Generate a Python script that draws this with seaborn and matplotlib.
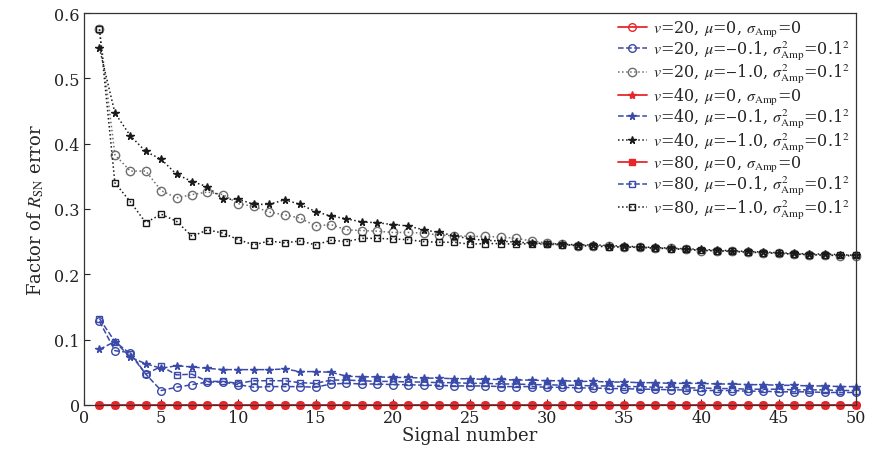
import numpy as np
import pandas as pd
import matplotlib
matplotlib.use("Agg")
import matplotlib.pyplot as plt
import seaborn as sns

signal = list(range(1, 51))

red_v20 = [0.0] * 50
red_v40 = [0.0] * 50
red_v80 = [0.0] * 50

blue_v20 = [0.128, 0.083, 0.080, 0.047, 0.022, 0.027, 0.031, 0.035, 0.035, 0.031,
            0.027, 0.028, 0.028, 0.028, 0.027, 0.032, 0.033, 0.032, 0.032, 0.031,
            0.031, 0.030, 0.030, 0.029, 0.029, 0.029, 0.028, 0.028, 0.028, 0.027,
            0.027, 0.026, 0.026, 0.025, 0.025, 0.024, 0.024, 0.023, 0.023, 0.022,
            0.022, 0.022, 0.021, 0.021, 0.020, 0.020, 0.020, 0.019, 0.019, 0.019]
blue_v40 = [0.085, 0.097, 0.073, 0.063, 0.056, 0.060, 0.058, 0.056, 0.054, 0.054,
            0.054, 0.054, 0.055, 0.051, 0.051, 0.050, 0.044, 0.043, 0.043, 0.042,
            0.042, 0.041, 0.041, 0.040, 0.040, 0.039, 0.039, 0.038, 0.038, 0.037,
            0.037, 0.036, 0.036, 0.035, 0.035, 0.034, 0.034, 0.033, 0.033, 0.033,
            0.032, 0.032, 0.031, 0.031, 0.030, 0.030, 0.029, 0.029, 0.028, 0.028]
blue_v80 = [0.132, 0.097, 0.078, 0.047, 0.059, 0.046, 0.047, 0.036, 0.036, 0.033,
            0.037, 0.037, 0.037, 0.034, 0.033, 0.038, 0.038, 0.037, 0.036, 0.036,
            0.035, 0.035, 0.034, 0.034, 0.033, 0.033, 0.032, 0.032, 0.031, 0.031,
            0.030, 0.030, 0.029, 0.029, 0.028, 0.028, 0.027, 0.027, 0.026, 0.026,
            0.025, 0.025, 0.024, 0.024, 0.024, 0.023, 0.023, 0.023, 0.022, 0.022]

black_v20 = [0.575, 0.383, 0.358, 0.358, 0.328, 0.317, 0.322, 0.326, 0.322, 0.308,
             0.304, 0.295, 0.291, 0.286, 0.274, 0.276, 0.268, 0.267, 0.266, 0.264,
             0.264, 0.263, 0.260, 0.259, 0.258, 0.258, 0.257, 0.255, 0.251, 0.248,
             0.246, 0.244, 0.244, 0.243, 0.241, 0.242, 0.240, 0.240, 0.238, 0.236,
             0.236, 0.235, 0.234, 0.233, 0.232, 0.231, 0.230, 0.230, 0.228, 0.228]
black_v40 = [0.546, 0.447, 0.412, 0.388, 0.376, 0.353, 0.342, 0.334, 0.315, 0.315,
             0.307, 0.307, 0.314, 0.307, 0.296, 0.289, 0.285, 0.280, 0.279, 0.276,
             0.274, 0.268, 0.264, 0.259, 0.254, 0.252, 0.251, 0.249, 0.248, 0.247,
             0.246, 0.245, 0.245, 0.244, 0.243, 0.242, 0.241, 0.240, 0.239, 0.238,
             0.237, 0.236, 0.235, 0.234, 0.233, 0.232, 0.231, 0.231, 0.230, 0.229]
black_v80 = [0.575, 0.340, 0.311, 0.279, 0.292, 0.281, 0.258, 0.268, 0.263, 0.253,
             0.245, 0.251, 0.248, 0.251, 0.245, 0.252, 0.250, 0.255, 0.255, 0.254,
             0.253, 0.250, 0.249, 0.249, 0.246, 0.247, 0.247, 0.246, 0.247, 0.246,
             0.245, 0.244, 0.243, 0.242, 0.242, 0.241, 0.240, 0.239, 0.238, 0.237,
             0.236, 0.235, 0.234, 0.233, 0.232, 0.231, 0.230, 0.229, 0.229, 0.229]

labels = [
    r"$v$=20, $\mu$=0, $\sigma_{\rm Amp}$=0",
    r"$v$=20, $\mu$=$-$0.1, $\sigma^2_{\rm Amp}$=0.1$^2$",
    r"$v$=20, $\mu$=$-$1.0, $\sigma^2_{\rm Amp}$=0.1$^2$",
    r"$v$=40, $\mu$=0, $\sigma_{\rm Amp}$=0",
    r"$v$=40, $\mu$=$-$0.1, $\sigma^2_{\rm Amp}$=0.1$^2$",
    r"$v$=40, $\mu$=$-$1.0, $\sigma^2_{\rm Amp}$=0.1$^2$",
    r"$v$=80, $\mu$=0, $\sigma_{\rm Amp}$=0",
    r"$v$=80, $\mu$=$-$0.1, $\sigma^2_{\rm Amp}$=0.1$^2$",
    r"$v$=80, $\mu$=$-$1.0, $\sigma^2_{\rm Amp}$=0.1$^2$",
]
series = [red_v20, blue_v20, black_v20, red_v40, blue_v40, black_v40,
          red_v80, blue_v80, black_v80]

RED = "#e8262a"
BLUE = "#3a4aa8"
BLACK = "#1a1a1a"
GRAY = "#6e6e6e"
styles = [
    dict(color=RED, linestyle="-", marker="o", mfc="none", mec=RED, ms=5.5, lw=1.3),
    dict(color=BLUE, linestyle="--", marker="o", mfc="none", mec=BLUE, ms=5.5, lw=1.1),
    dict(color=GRAY, linestyle=":", marker="o", mfc="none", mec=GRAY, ms=6, lw=1.1),
    dict(color=RED, linestyle="-", marker="*", mfc=RED, mec=RED, ms=6, lw=1.3),
    dict(color=BLUE, linestyle="--", marker="*", mfc=BLUE, mec=BLUE, ms=5.5, lw=1.1),
    dict(color=BLACK, linestyle=":", marker="*", mfc=BLACK, mec=BLACK, ms=5.5, lw=1.1),
    dict(color=RED, linestyle="-", marker="s", mfc=RED, mec=RED, ms=4.5, lw=1.3),
    dict(color=BLUE, linestyle="--", marker="s", mfc="none", mec=BLUE, ms=4.5, lw=1.1),
    dict(color=BLACK, linestyle=":", marker="s", mfc="none", mec=BLACK, ms=4.5, lw=1.1),
]

sns.set_theme(style="ticks")
plt.rcParams["font.family"] = ["DejaVu Serif"]
plt.rcParams["mathtext.fontset"] = "stix"

fig = plt.figure(figsize=(8.69, 4.52), dpi=100)
ax = fig.add_axes([0.0967, 0.102, 0.888, 0.867])

for lab, vals, st in zip(labels, series, styles):
    df = pd.DataFrame({"Signal number": signal, "value": vals})
    sns.lineplot(data=df, x="Signal number", y="value", ax=ax, label=lab,
                 color=st["color"], linestyle=st["linestyle"], linewidth=st["lw"],
                 marker=st["marker"], markerfacecolor=st["mfc"],
                 markeredgecolor=st["mec"], markersize=st["ms"],
                 markeredgewidth=1.0, clip_on=False)

ax.set_xlim(0, 50)
ax.set_ylim(0, 0.6)
ax.set_xticks([0, 5, 10, 15, 20, 25, 30, 35, 40, 45, 50])
ax.set_yticks([0, 0.1, 0.2, 0.3, 0.4, 0.5, 0.6])
ax.set_yticklabels(["0", "0.1", "0.2", "0.3", "0.4", "0.5", "0.6"])
ax.tick_params(direction="in", length=4, width=0.8, labelsize=11.5, pad=3,
               colors="#222222")
for sp in ax.spines.values():
    sp.set_visible(True)
    sp.set_linewidth(0.9)
    sp.set_color("#333333")

ax.set_xlabel("Signal number", fontsize=13, labelpad=0)
ax.set_ylabel(r"Factor of $R_{\rm SN}$ error", fontsize=13, labelpad=6)

leg = ax.legend(loc="upper right", frameon=False, fontsize=11.5,
                handlelength=1.8, labelspacing=0.02, borderaxespad=0.15,
                handletextpad=0.4, borderpad=0.2)

fig.savefig("out.png", dpi=100)
